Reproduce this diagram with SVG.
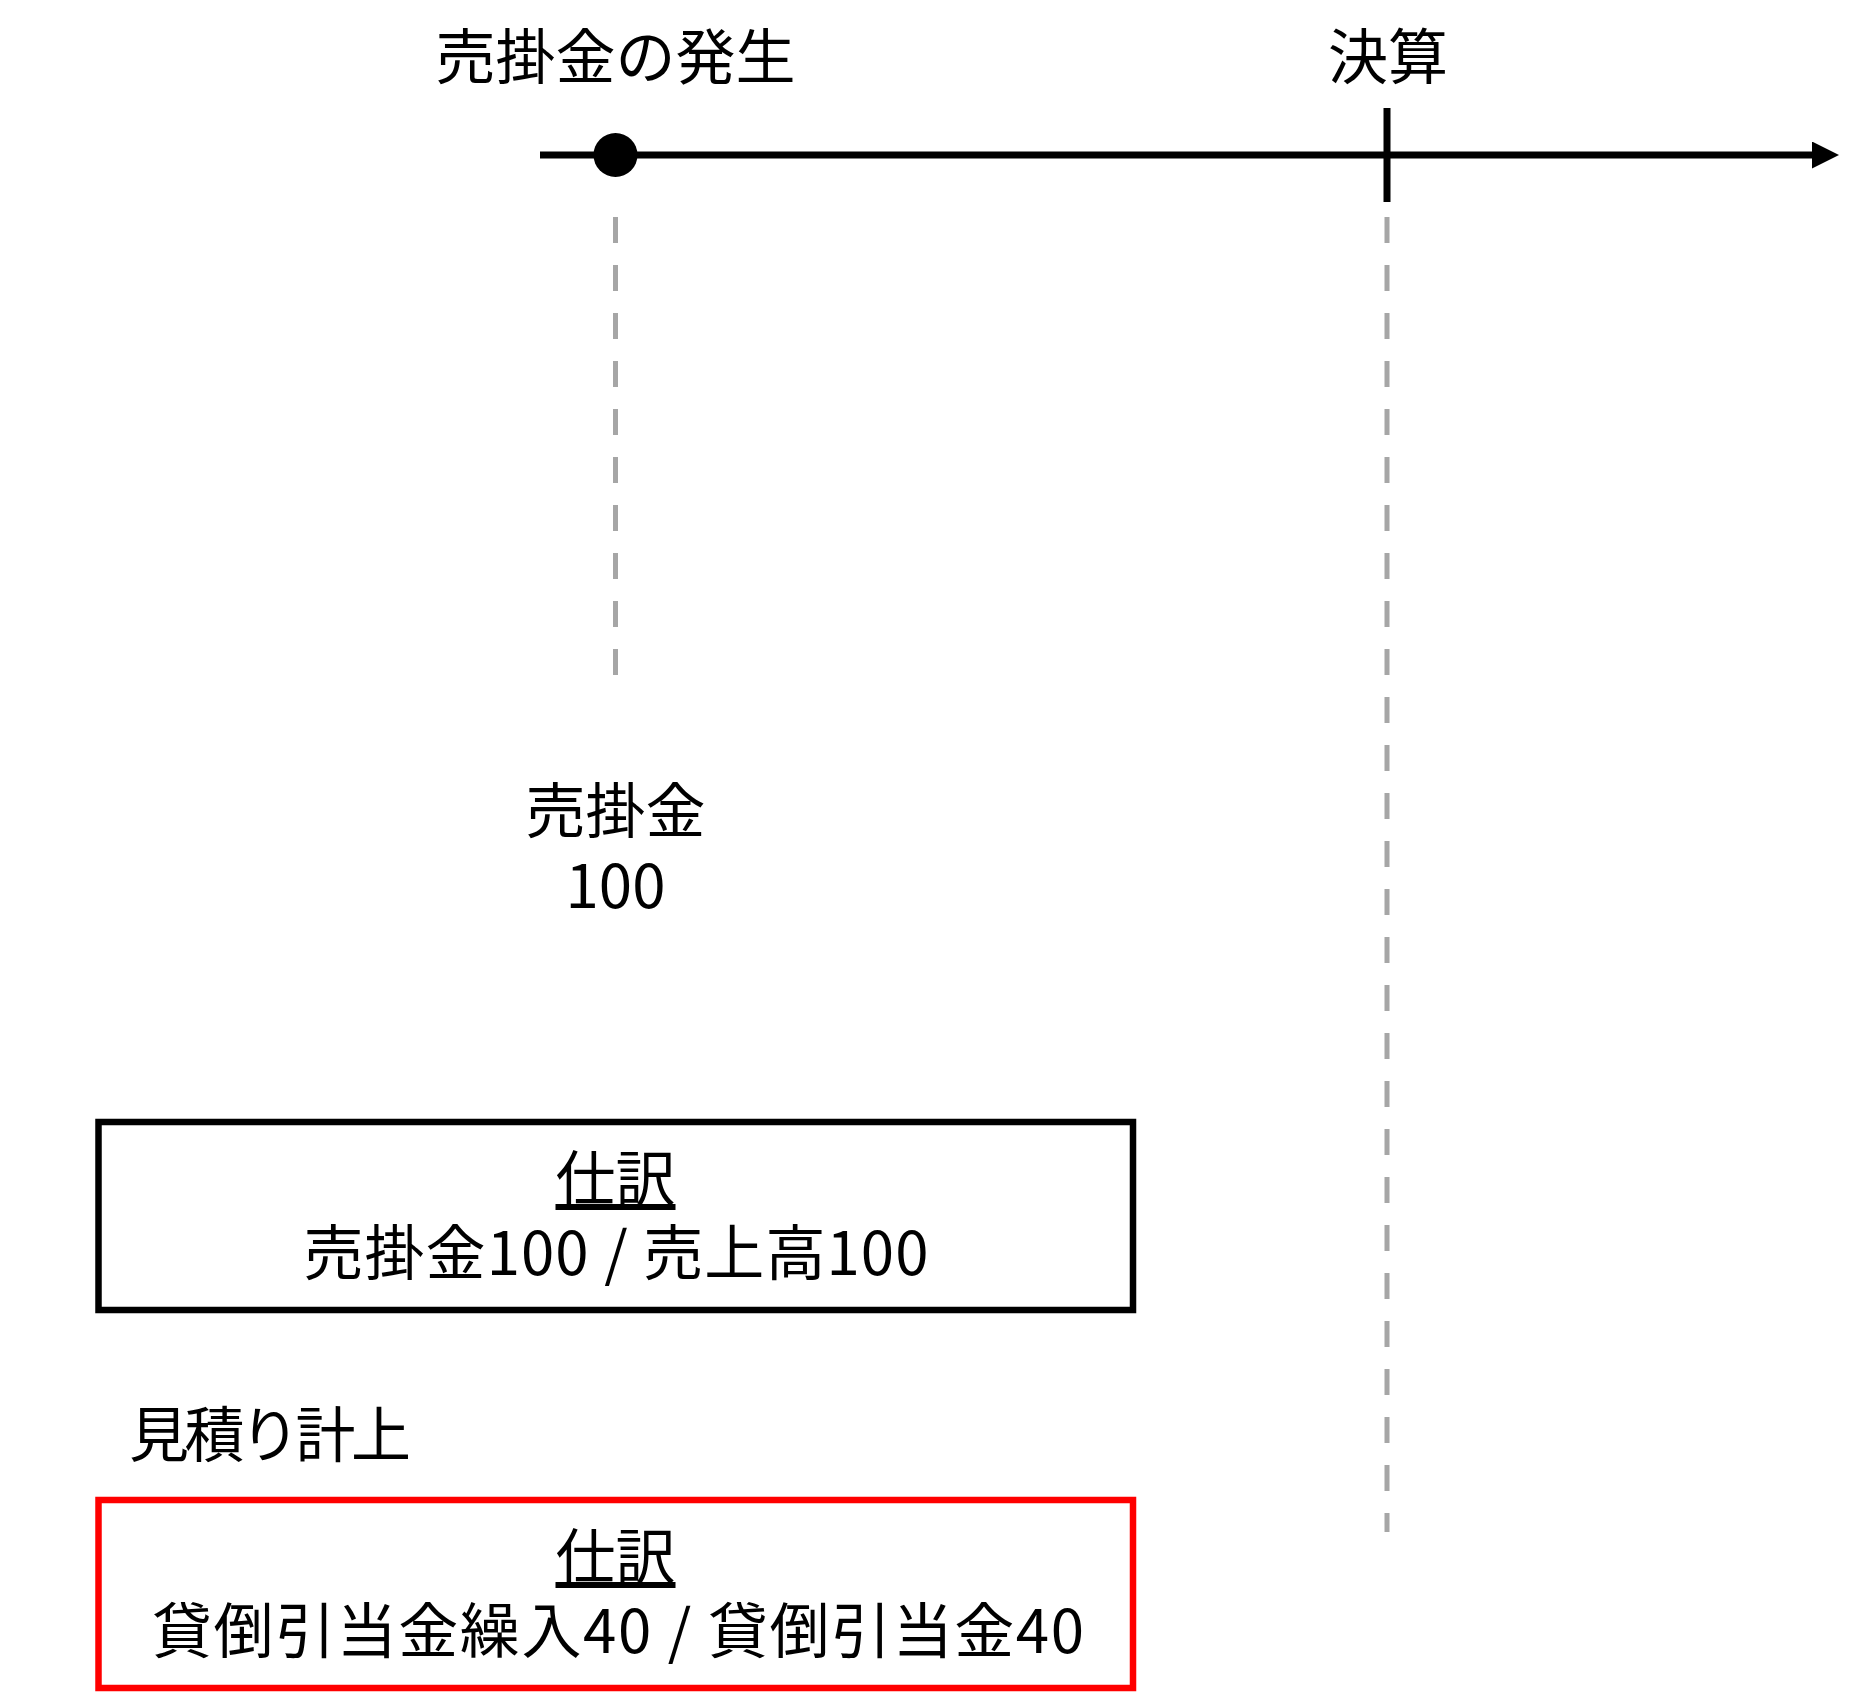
<svg xmlns="http://www.w3.org/2000/svg" width="1867" height="1705" viewBox="0 0 1867 1705">
  <style>
    .t { font-family: "Noto Sans CJK JP", "Noto Sans", sans-serif; font-size: 60px; fill: #000; }
    .c { text-anchor: middle; }
    .u { text-decoration: underline; }
    .dash { stroke: #a6a6a6; stroke-width: 5; stroke-dasharray: 26 22; fill: none; }
    .box { fill: #fff; stroke-width: 6.5; }
  </style>
  <defs>
    <marker id="arrow" markerUnits="userSpaceOnUse" viewBox="0 0 27 27" refX="0" refY="13.5" markerWidth="27" markerHeight="27" orient="auto">
      <path d="M0,0 L27,13.5 L0,27 Z" fill="#000"/>
    </marker>
  </defs>
  <rect width="1867" height="1705" fill="#fff"/>

  <g id="connectors">
    <line class="dash" x1="615.5" y1="217" x2="615.5" y2="677"/>
    <line class="dash" x1="1387" y1="217" x2="1387" y2="1532"/>
    <line x1="540" y1="155" x2="1812" y2="155" stroke="#000" stroke-width="7" marker-end="url(#arrow)"/>
  </g>

  <g id="event-occur">
    <circle cx="615.5" cy="155" r="22" fill="#000"/>
    <text class="t c" x="615.5" y="79">売掛金の発生</text>
  </g>

  <g id="event-closing">
    <line x1="1387" y1="108" x2="1387" y2="202" stroke="#000" stroke-width="7"/>
    <text class="t c" x="1388" y="79">決算</text>
  </g>

  <g id="receivable-label">
    <text class="t c" x="615.5" y="833"><tspan x="615.5">売掛金</tspan><tspan x="615.5" dy="75">100</tspan></text>
  </g>

  <g id="journal-1">
    <rect class="box" x="98.5" y="1122" width="1034.5" height="188" stroke="#000"/>
    <text class="t c" x="615.5" y="1201"><tspan class="u" x="615.5">仕訳</tspan><tspan x="616" dy="74" textLength="625" lengthAdjust="spacing">売掛金100 / 売上高100</tspan></text>
  </g>

  <g id="estimate-label">
    <text class="t" x="129" y="1457" textLength="282" lengthAdjust="spacing">見積り計上</text>
  </g>

  <g id="journal-2">
    <rect class="box" x="98.5" y="1500" width="1034.5" height="188" stroke="#ff0000"/>
    <text class="t c" x="615.5" y="1579"><tspan class="u" x="615.5">仕訳</tspan><tspan x="618" dy="74" textLength="932" lengthAdjust="spacing">貸倒引当金繰入40 / 貸倒引当金40</tspan></text>
  </g>
</svg>
